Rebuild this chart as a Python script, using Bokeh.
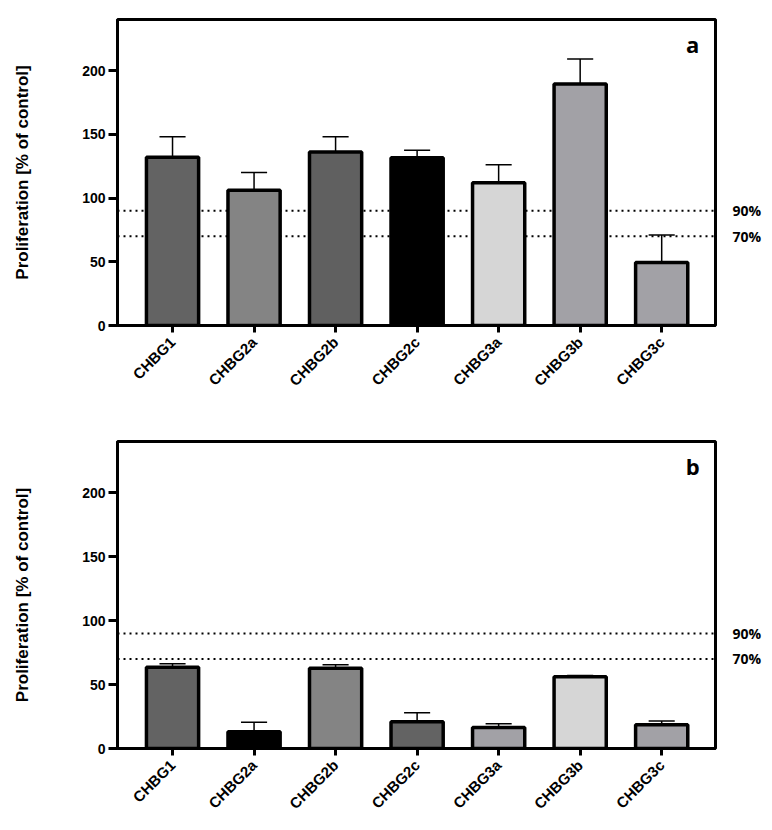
import math

from bokeh.plotting import figure
from bokeh.layouts import column
from bokeh.models import (ColumnDataSource, Range1d, FixedTicker, LinearAxis,
                          Span, Label)
from bokeh.embed import file_html
from bokeh.resources import INLINE

# 数据
categories = ['CHBG1', 'CHBG2a', 'CHBG2b', 'CHBG2c', 'CHBG3a', 'CHBG3b', 'CHBG3c']

mean_a = [132, 106, 136, 131.5, 112, 189.5, 49.5]
upper_a = [148, 120, 148, 137.5, 126, 209, 71]
colors_a = ['#636363', '#848484', '#606060', '#000000', '#d6d6d6', '#a2a1a6', '#a2a1a6']

mean_b = [63.5, 13, 62.7, 21, 16.5, 56, 18.5]
upper_b = [66.2, 20.5, 65.4, 28, 19.3, 57, 21.5]
colors_b = ['#636363', '#000000', '#848484', '#636363', '#a2a1a6', '#d6d6d6', '#a2a1a6']

thresholds = [90, 70]
threshold_labels = {90: '90%', 70: '70%'}
y_ticks = [0, 50, 100, 150, 200]

FONT = 'Liberation Sans'
BAR_W = 0.64
CAP = 0.16


def make_panel(mean, upper, colors, letter, height, top, bottom):
    idx = list(range(len(categories)))
    src = ColumnDataSource(dict(
        x=idx, top=mean, up=upper, color=colors,
        c0=[i - CAP for i in idx], c1=[i + CAP for i in idx],
    ))

    p = figure(width=772, height=height, output_backend='svg', toolbar_location=None,
               x_range=Range1d(-0.675, 6.66), y_range=Range1d(0, 240),
               min_border_left=117, min_border_right=57,
               min_border_top=top, min_border_bottom=bottom)
    p.xgrid.visible = False
    p.ygrid.visible = False
    p.outline_line_color = 'black'
    p.outline_line_width = 3
    p.outline_line_alpha = 1

    # 阈值虚线
    for t in thresholds:
        p.add_layout(Span(location=t, dimension='width', line_color='black',
                          line_width=2, line_dash='2 4', level='underlay'))

    # 误差线
    p.segment(x0='x', y0='top', x1='x', y1='up', source=src, line_color='black', line_width=1.5)
    p.segment(x0='c0', y0='up', x1='c1', y1='up', source=src, line_color='black', line_width=1.5)

    # 柱子
    p.vbar(x='x', top='top', bottom=0, width=BAR_W, source=src, fill_color='color',
           line_color='black', line_width=3.5)

    # x轴
    xa = p.xaxis[0]
    xa.ticker = FixedTicker(ticks=idx)
    xa.major_label_overrides = {i: c for i, c in zip(idx, categories)}
    xa.major_label_orientation = math.pi / 4
    xa.major_label_text_font = FONT
    xa.major_label_text_font_style = 'bold'
    xa.major_label_text_font_size = '15px'
    xa.major_label_text_color = 'black'
    xa.major_label_standoff = 7
    xa.axis_line_width = 3
    xa.axis_line_color = 'black'
    xa.major_tick_line_width = 3
    xa.major_tick_line_color = 'black'
    xa.major_tick_out = 7
    xa.major_tick_in = 0
    xa.minor_tick_line_color = None

    # y轴
    ya = p.yaxis[0]
    ya.ticker = FixedTicker(ticks=y_ticks)
    ya.axis_label = 'Proliferation [% of control]'
    ya.axis_label_text_font = FONT
    ya.axis_label_text_font_style = 'bold'
    ya.axis_label_text_font_size = '17px'
    ya.axis_label_text_color = 'black'
    ya.axis_label_standoff = 47
    ya.major_label_text_font = FONT
    ya.major_label_text_font_style = 'bold'
    ya.major_label_text_font_size = '14px'
    ya.major_label_text_color = 'black'
    ya.major_label_standoff = 3
    ya.axis_line_width = 3
    ya.axis_line_color = 'black'
    ya.major_tick_line_width = 3
    ya.major_tick_line_color = 'black'
    ya.major_tick_out = 9
    ya.major_tick_in = 0
    ya.minor_tick_line_color = None

    # 右侧 90% / 70%
    ra = LinearAxis(ticker=FixedTicker(ticks=thresholds),
                    major_label_overrides=threshold_labels,
                    axis_line_color=None, major_tick_line_color=None,
                    minor_tick_line_color=None, major_tick_out=0, major_tick_in=0,
                    major_label_standoff=17,
                    major_label_text_font='Open Sans',
                    major_label_text_font_style='bold',
                    major_label_text_font_size='14px',
                    major_label_text_color='black')
    p.add_layout(ra, 'right')

    p.add_layout(Label(x=6.38, y=221, text=letter, text_font='Open Sans',
                       text_font_style='bold', text_font_size='22px',
                       text_align='center', text_baseline='middle', text_color='black'))
    return p


fa = make_panel(mean_a, upper_a, colors_a, 'a', 420, 19, 95)
fb = make_panel(mean_b, upper_b, colors_b, 'b', 410, 21, 82)

p = column(fa, fb, spacing=0)
open("out.html", "w").write(file_html(p, INLINE))
